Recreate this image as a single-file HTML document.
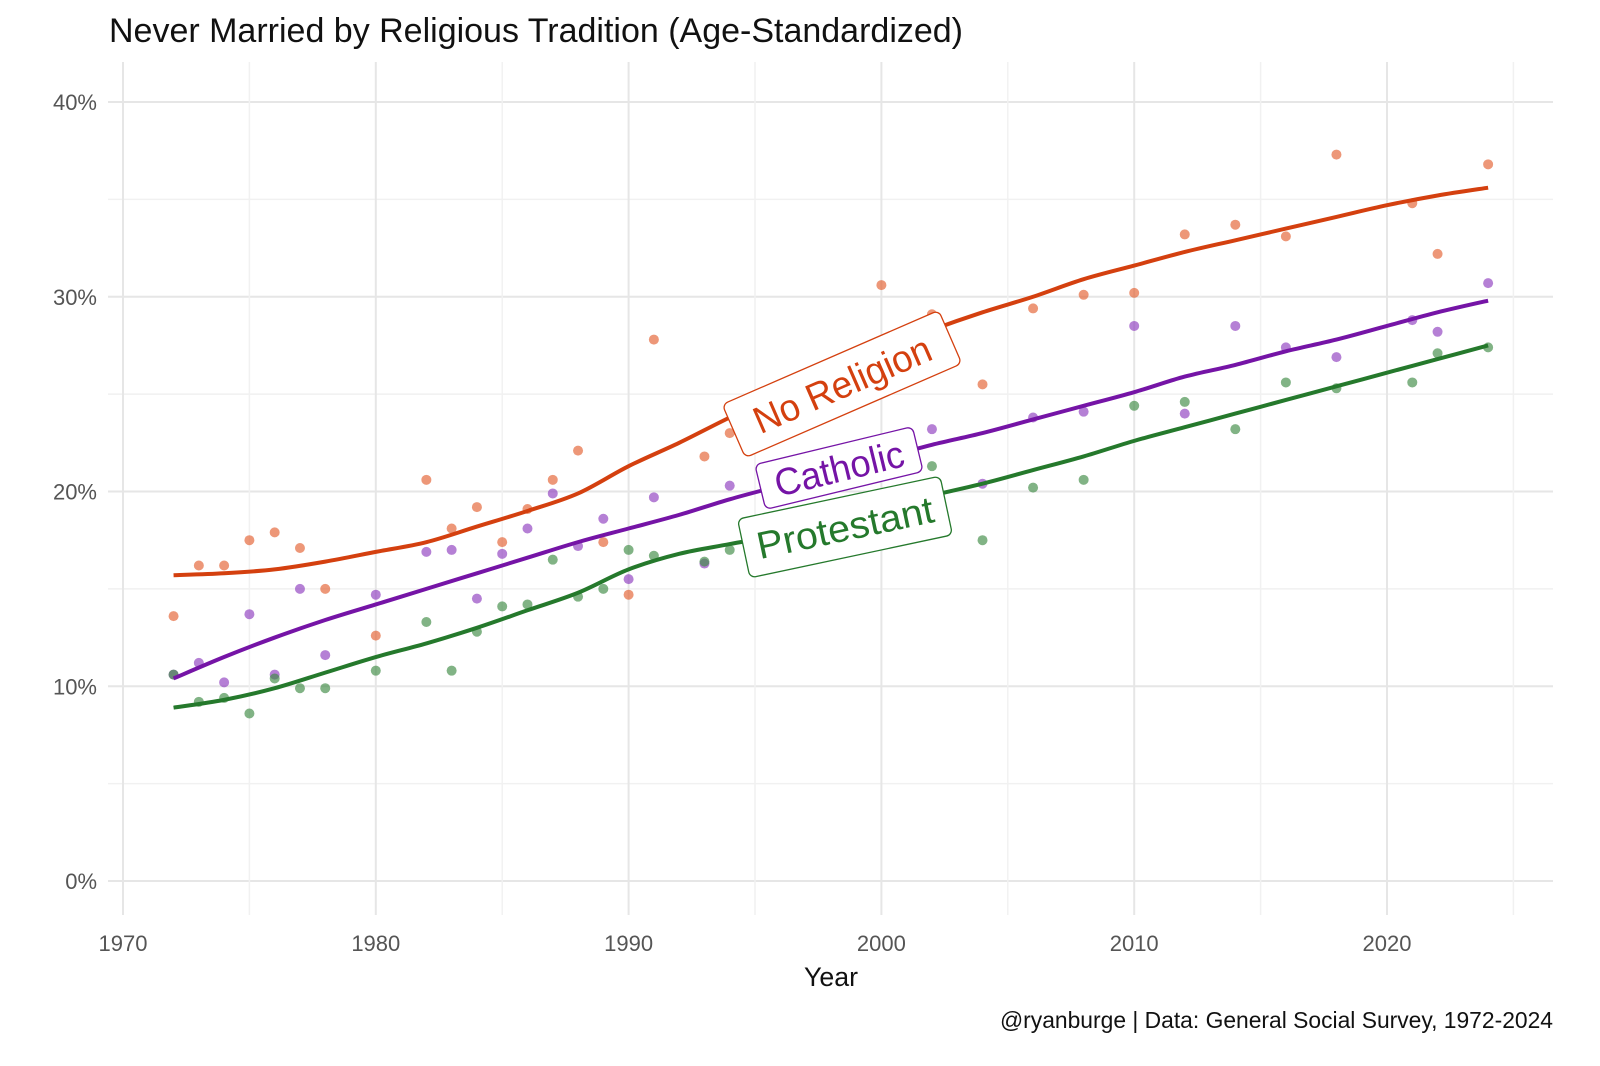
<!DOCTYPE html>
<html><head><meta charset="utf-8"><style>
html,body{margin:0;padding:0;background:#fff;}
svg{display:block;font-family:"Liberation Sans",sans-serif;}
</style></head><body>
<svg id="chart" width="1600" height="1066" viewBox="0 0 1600 1066" xmlns="http://www.w3.org/2000/svg">
<text x="109" y="42" font-size="34" fill="#111" textLength="854" lengthAdjust="spacingAndGlyphs">Never Married by Religious Tradition (Age-Standardized)</text>
<g id="grid"></g>
<g id="axes"></g>
<g id="points"></g>
<g id="lines"></g>
<g id="labels"></g>
<text x="831" y="986" font-size="27" fill="#111" text-anchor="middle" textLength="54" lengthAdjust="spacingAndGlyphs">Year</text>
<text x="1553" y="1028" font-size="23" fill="#111" text-anchor="end" textLength="553" lengthAdjust="spacingAndGlyphs">@ryanburge | Data: General Social Survey, 1972-2024</text>
</svg>
<script>
const xTicks=[1970,1980,1990,2000,2010,2020];
const yTicks=[0,10,20,30,40];
const noneYears=[1972,1973,1974,1975,1976,1977,1978,1980,1982,1983,1984,1985,1986,1987,1988,1989,1990,1991,1993,1994,1996,1998,2000,2002,2004,2006,2008,2010,2012,2014,2016,2018,2021,2022,2024];
const noneVals=[13.6,16.2,16.2,17.5,17.9,17.1,15.0,12.6,20.6,18.1,19.2,17.4,19.1,20.6,22.1,17.4,14.7,27.8,21.8,23,24,26,30.6,29.1,25.5,29.4,30.1,30.2,33.2,33.7,33.1,37.3,34.8,32.2,36.8];
const cathYears=[1972,1973,1974,1975,1976,1977,1978,1980,1982,1983,1984,1985,1986,1987,1988,1989,1990,1991,1993,1994,1996,1998,2000,2002,2004,2006,2008,2010,2012,2014,2016,2018,2021,2022,2024];
const cathVals=[10.6,11.2,10.2,13.7,10.6,15.0,11.6,14.7,16.9,17.0,14.5,16.8,18.1,19.9,17.2,18.6,15.5,19.7,16.3,20.3,20.5,21,21.5,23.2,20.4,23.8,24.1,28.5,24.0,28.5,27.4,26.9,28.8,28.2,30.7];
const protYears=[1972,1973,1974,1975,1976,1977,1978,1980,1982,1983,1984,1985,1986,1987,1988,1989,1990,1991,1993,1994,1996,1998,2000,2002,2004,2006,2008,2010,2012,2014,2016,2018,2021,2022,2024];
const protVals=[10.6,9.2,9.4,8.6,10.4,9.9,9.9,10.8,13.3,10.8,12.8,14.1,14.2,16.5,14.6,15.0,17.0,16.7,16.4,17,18,19,19.5,21.3,17.5,20.2,20.6,24.4,24.6,23.2,25.6,25.3,25.6,27.1,27.4];
const smoothYears=[1972,1974,1976,1978,1980,1982,1984,1986,1988,1990,1992,1994,1996,1998,2000,2002,2004,2006,2008,2010,2012,2014,2016,2018,2020,2022,2024];
const noneSmooth=[15.7,15.8,16.0,16.4,16.9,17.4,18.2,19.0,19.9,21.3,22.5,23.8,25.0,26.2,27.3,28.3,29.2,30.0,30.9,31.6,32.3,32.9,33.5,34.1,34.7,35.2,35.6];
const cathSmooth=[10.4,11.5,12.5,13.4,14.2,15.0,15.8,16.6,17.4,18.1,18.8,19.6,20.3,21.0,21.7,22.4,23.0,23.7,24.4,25.1,25.9,26.5,27.2,27.8,28.5,29.2,29.8];
const protSmooth=[8.9,9.3,9.9,10.7,11.5,12.2,13.0,13.9,14.8,16.0,16.8,17.3,17.8,18.5,19.2,19.8,20.4,21.1,21.8,22.6,23.3,24.0,24.7,25.4,26.1,26.8,27.5];

const NS="http://www.w3.org/2000/svg";
const xS=y=>123+(y-1970)*25.28;
const yS=v=>881-v*19.475;
function mk(tag,attrs,parent){const e=document.createElementNS(NS,tag);for(const k in attrs)e.setAttribute(k,attrs[k]);parent.appendChild(e);return e;}
const grid=document.getElementById('grid'),axes=document.getElementById('axes');
for(let v=0;v<=40;v+=5){const l=mk('line',{x1:108,x2:1553,y1:yS(v),y2:yS(v),stroke:v%10===0?'#e6e6e6':'#f1f1f1','stroke-width':v%10===0?2:1.5},grid);

}
for(let y=1970;y<=2025;y+=5){const l=mk('line',{x1:xS(y),x2:xS(y),y1:62,y2:915,stroke:y%10===0?'#e6e6e6':'#f1f1f1','stroke-width':y%10===0?2:1.5},grid);

}
yTicks.forEach(v=>{const t=mk('text',{x:97,y:yS(v)+8,'font-size':22,fill:'#555','text-anchor':'end'},axes);t.textContent=v+'%';

});
xTicks.forEach(y=>{const t=mk('text',{x:xS(y),y:951,'font-size':22,fill:'#555','text-anchor':'middle'},axes);t.textContent=y;

});
const pts=document.getElementById('points');
function dots(ys,vs,col,name){ys.forEach((y,i)=>{const c=mk('circle',{cx:xS(y),cy:yS(vs[i]),r:5,fill:col,'fill-opacity':0.65},pts);

});}
dots(noneYears,noneVals,'#e4602f','point-no-religion');
dots(cathYears,cathVals,'#8e3cbf','point-catholic');
dots(protYears,protVals,'#3e8a44','point-protestant');
const lines=document.getElementById('lines');
function smooth(ys,vs,col,name){const p=ys.map((y,i)=>[xS(y),yS(vs[i])]);let d='M'+p[0][0]+','+p[0][1];
for(let i=0;i<p.length-1;i++){const p0=p[Math.max(0,i-1)],p1=p[i],p2=p[i+1],p3=p[Math.min(p.length-1,i+2)];
d+=' C'+(p1[0]+(p2[0]-p0[0])/6)+','+(p1[1]+(p2[1]-p0[1])/6)+' '+(p2[0]-(p3[0]-p1[0])/6)+','+(p2[1]-(p3[1]-p1[1])/6)+' '+p2[0]+','+p2[1];}
const e=mk('path',{d:d,fill:'none',stroke:col,'stroke-width':4},lines);

}
smooth(smoothYears,noneSmooth,'#d4400f','line-no-religion');
smooth(smoothYears,cathSmooth,'#7514a6','line-catholic');
smooth(smoothYears,protSmooth,'#25792c','line-protestant');
const labs=document.getElementById('labels');
function label(txt,cx,cy,ang,w,h,col,fs,tl,name){const g=mk('g',{transform:`translate(${cx},${cy}) rotate(${ang})`},labs);


mk('rect',{x:-w/2,y:-h/2,width:w,height:h,rx:6,fill:'#fff',stroke:col,'stroke-width':1.3},g);
const t=mk('text',{x:0,y:fs*0.36,'font-size':fs,fill:col,'text-anchor':'middle',textLength:tl,lengthAdjust:'spacingAndGlyphs'},g);t.textContent=txt;}
label('No Religion',842,384,-23.5,236,58,'#d4400f',38,190,'label-no-religion');
label('Catholic',839,468,-13.6,162,46,'#7514a6',38,132,'label-catholic');
label('Protestant',845,527,-12,207,60,'#25792c',38,180,'label-protestant');
</script>
</body></html>
